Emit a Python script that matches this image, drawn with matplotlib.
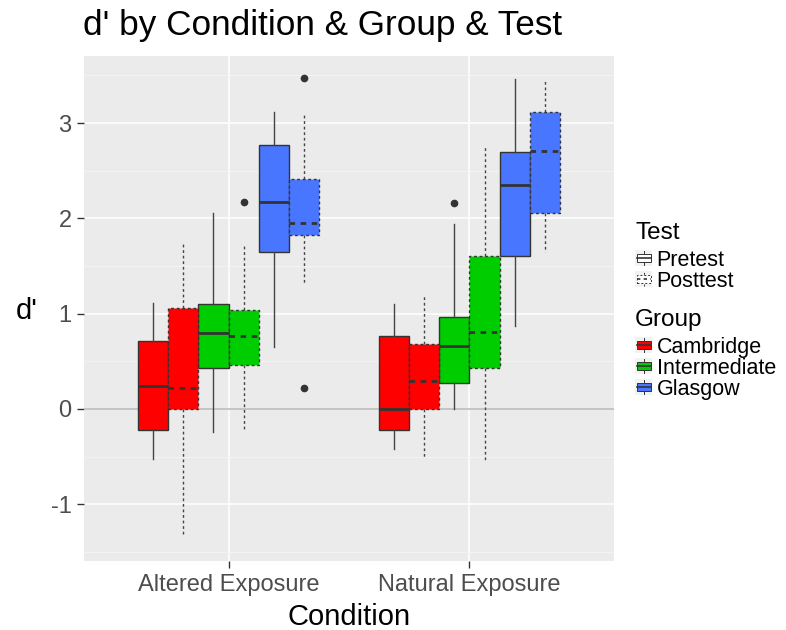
import matplotlib.pyplot as plt
from matplotlib.patches import Patch, Rectangle
from matplotlib.lines import Line2D
from matplotlib.legend_handler import HandlerBase

plt.rcParams['font.family'] = ['Liberation Sans', 'DejaVu Sans']
plt.rcParams['axes.unicode_minus'] = False

# data -- order: condition > group > test
conditions = ['Altered Exposure', 'Natural Exposure']
groups = ['Cambridge', 'Intermediate', 'Glasgow']
tests = ['Pretest', 'Posttest']
group_colors = ['#FF0000', '#00CD00', '#4876FF']

whislo = [-0.53, -1.32, -0.24, -0.21, 0.65, 1.31,
          -0.42, -0.52, 0.00, -0.54, 0.87, 1.65]
q1 = [-0.22, 0.00, 0.43, 0.46, 1.65, 1.82,
      -0.22, 0.00, 0.27, 0.43, 1.60, 2.06]
med = [0.245, 0.224, 0.80, 0.766, 2.17, 1.95,
       0.00, 0.297, 0.661, 0.811, 2.354, 2.707]
q3 = [0.71, 1.063, 1.105, 1.039, 2.77, 2.41,
      0.763, 0.679, 0.969, 1.60, 2.70, 3.12]
whishi = [1.11, 1.74, 2.06, 1.71, 3.116, 3.11,
          1.105, 1.18, 1.94, 2.77, 3.46, 3.44]
fliers = [[], [], [], [2.17], [], [3.47, 0.224],
          [], [], [2.165], [], [], []]

dash = (0, (2, 2))
edge = '#333333'

fig = plt.figure(figsize=(7.86, 6.3), dpi=100)
ax = fig.add_axes([84 / 786, 69 / 630, 530 / 786, 505 / 630])

# split into pretest / posttest sets, dodged like ggplot
sets = {0: ([], [], []), 1: ([], [], [])}
i = 0
for c in range(len(conditions)):
    for g in range(len(groups)):
        for t in range(len(tests)):
            k = g * 2 + t
            pos = c + 1 - 0.375 + 0.0625 + k * 0.125
            st = dict(whislo=whislo[i], q1=q1[i], med=med[i], q3=q3[i],
                      whishi=whishi[i], fliers=fliers[i])
            sets[t][0].append(st)
            sets[t][1].append(pos)
            sets[t][2].append(group_colors[g])
            i += 1

for t, (stats, pos, cols) in sets.items():
    ls = '-' if t == 0 else dash
    res = ax.bxp(stats, positions=pos, widths=0.125, patch_artist=True,
                 showcaps=False, manage_ticks=False,
                 boxprops=dict(edgecolor=edge, linewidth=1.0, linestyle=ls),
                 whiskerprops=dict(color='#444444', linewidth=1.0, linestyle=ls),
                 medianprops=dict(color=edge, linewidth=2.0, linestyle=ls),
                 flierprops=dict(marker='o', markerfacecolor=edge,
                                 markeredgecolor=edge, markersize=4.5))
    for patch, col in zip(res['boxes'], cols):
        patch.set_facecolor(col)

ax.axhline(0, color='#C4C4C4', linewidth=1.4, zorder=1)

ax.set_xlim(0.4, 2.6)
ax.set_ylim(-1.595, 3.703)
ax.set_xticks([1, 2])
ax.set_xticklabels(conditions)
ax.set_yticks([-1, 0, 1, 2, 3])
ax.set_yticks([-1.5, -0.5, 0.5, 1.5, 2.5, 3.5], minor=True)
ax.set_facecolor('#EBEBEB')
for s in ax.spines.values():
    s.set_visible(False)
ax.set_axisbelow(True)
ax.grid(which='major', color='white', linewidth=1.1)
ax.grid(which='minor', axis='y', color='#F5F5F5', linewidth=0.6)
ax.tick_params(which='minor', length=0)
ax.tick_params(which='major', length=5, width=1, color='#333333',
               labelsize=17, labelcolor='#4D4D4D', pad=4)

ax.set_xlabel('Condition', fontsize=21, va='center')
ax.xaxis.set_label_coords(0.5, -0.111)
ax.set_ylabel("d'", fontsize=21, rotation=0, ha='center', va='center')
ax.yaxis.set_label_coords(-0.108, 0.495)
fig.text(83 / 786, 1 - 25 / 630, "d' by Condition & Group & Test",
         fontsize=25.3, ha='left', va='center')


class BoxKey(HandlerBase):
    def create_artists(self, legend, orig_handle, xdescent, ydescent,
                       width, height, fontsize, trans):
        x0, y0 = -xdescent, -ydescent
        fc = orig_handle.get_facecolor()
        ls = orig_handle.get_linestyle()
        bg = Rectangle((x0, y0), width, height, fc='#F2F2F2', ec='none',
                       transform=trans)
        whisk = Line2D([x0 + width / 2] * 2, [y0 + 0.1 * height, y0 + 0.9 * height],
                       color=edge, lw=0.7, ls=ls, transform=trans)
        box = Rectangle((x0 + 0.1 * width, y0 + 0.25 * height), 0.8 * width,
                        0.5 * height, fc=fc, ec=edge, lw=0.7, ls=ls, transform=trans)
        mid = Line2D([x0 + 0.1 * width, x0 + 0.9 * width], [y0 + height / 2] * 2,
                     color=edge, lw=1.2, ls=ls, transform=trans)
        return [bg, whisk, box, mid]


leg_kw = dict(loc='upper left', frameon=False, handler_map={Patch: BoxKey()},
              fontsize=15.5, title_fontsize=17.5, handlelength=0.8,
              handleheight=0.8, handletextpad=0.2, labelspacing=0,
              alignment='left', borderpad=0, borderaxespad=0)
test_handles = [Patch(facecolor='white', linestyle='-'),
                Patch(facecolor='white', linestyle=dash)]
leg1 = fig.legend(handles=test_handles, labels=tests, title='Test',
                  bbox_to_anchor=(635 / 786, 1 - 222 / 630), **leg_kw)
group_handles = [Patch(facecolor=c, linestyle='-') for c in group_colors]
leg2 = fig.legend(handles=group_handles, labels=groups, title='Group',
                  bbox_to_anchor=(635 / 786, 1 - 309 / 630), **leg_kw)
# small gap between legend title and its entries
for leg in (leg1, leg2):
    leg._legend_box.sep = 4

fig.savefig('out.png', dpi=100)
